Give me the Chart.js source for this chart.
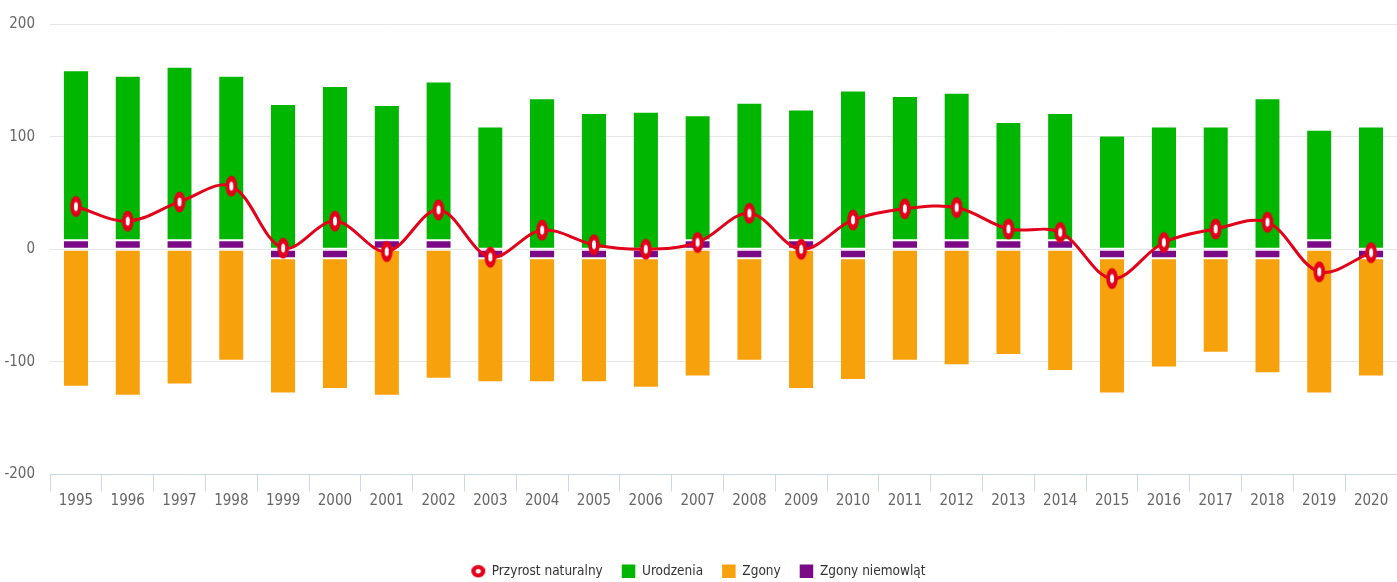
<!DOCTYPE html>
<html>
<head>
<meta charset="utf-8">
<script src="https://cdn.jsdelivr.net/npm/chart.js@4/dist/chart.umd.min.js"></script>
<style>
  html, body { margin: 0; padding: 0; background: #fff; }
  #wrap { width: 1397px; height: 582px; position: relative; }
</style>
</head>
<body>
<div id="wrap"><canvas id="chart"></canvas></div>
<script>
const years = ["1995", "1996", "1997", "1998", "1999", "2000", "2001", "2002", "2003", "2004",
  "2005", "2006", "2007", "2008", "2009", "2010", "2011", "2012", "2013", "2014",
  "2015", "2016", "2017", "2018", "2019", "2020"];

// values (thousands)
const przyrost = [38, 25, 42, 56, 1, 25, -2, 35, -7, 17, 4, 0, 6, 32, 0, 26, 36, 37, 18, 15, -26, 6, 18, 24, -20, -3];
const urodzenia = [151, 146, 154, 146, 129, 145, 120, 141, 109, 134, 121, 122, 111, 130, 116, 141, 128, 131, 105, 113, 101, 109, 109, 134, 98, 109];
const zgony = [-122, -130, -120, -99, -120, -116, -130, -115, -110, -110, -110, -115, -113, -91, -124, -108, -99, -103, -94, -108, -120, -97, -84, -102, -128, -105];
const zgonyNiemowlat = [8, 8, 8, 8, -8, -8, 8, 8, -8, -8, -8, -8, 8, -8, 8, -8, 8, 8, 8, 8, -8, -8, -8, -8, 8, -8];

const yTicks = [-200, -100, 0, 100, 200];

const RED = "#e2001a";
const FONT = "'DejaVu Sans Condensed', 'Liberation Sans', sans-serif";
const barBorder = { top: 1, bottom: 1, left: 0, right: 0 };

// red marker with white dot, a bit taller than wide like in the original
function makeMarker(w, h, rx, ry, irx, iry) {
  const c = document.createElement("canvas");
  c.width = w;
  c.height = h;
  const g = c.getContext("2d");
  g.fillStyle = RED;
  g.beginPath();
  g.ellipse(w / 2, h / 2, rx, ry, 0, 0, Math.PI * 2);
  g.fill();
  g.fillStyle = "#fff";
  g.beginPath();
  g.ellipse(w / 2, h / 2, irx, iry, 0, 0, Math.PI * 2);
  g.fill();
  return c;
}
const pointMarker = makeMarker(14, 24, 5.8, 10.5, 2, 4.5);
const legendMarker = makeMarker(16, 14, 7, 6.2, 2.6, 2.3);

const ctx = document.getElementById("chart");

new Chart(ctx, {
  data: {
    labels: years,
    datasets: [
      {
        type: "line",
        label: "Przyrost naturalny",
        data: przyrost,
        stack: "line",
        order: 0,
        borderColor: RED,
        borderWidth: 3,
        tension: 0.35,
        pointStyle: pointMarker,
        pointRadius: 6,
      },
      {
        type: "bar",
        label: "Urodzenia",
        data: urodzenia,
        stack: "a",
        order: 2,
        backgroundColor: "#00b600",
        borderColor: "#ffffff",
        borderWidth: barBorder,
        borderSkipped: false,
        pointStyle: "rect",
      },
      {
        type: "bar",
        label: "Zgony",
        data: zgony,
        stack: "a",
        order: 3,
        backgroundColor: "#f7a10c",
        borderColor: "#ffffff",
        borderWidth: barBorder,
        borderSkipped: false,
        pointStyle: "rect",
      },
      {
        type: "bar",
        label: "Zgony niemowląt",
        data: zgonyNiemowlat,
        stack: "a",
        order: 1,
        backgroundColor: "#7b0a86",
        borderColor: "#ffffff",
        borderWidth: barBorder,
        borderSkipped: false,
        pointStyle: "rect",
      },
    ],
  },
  options: {
    responsive: true,
    maintainAspectRatio: false,
    animation: false,
    layout: { autoPadding: false, padding: { top: 12, right: 0, bottom: -6, left: 0 } },
    datasets: {
      bar: { categoryPercentage: 1, barPercentage: 0.47 },
    },
    plugins: {
      tooltip: { enabled: false },
      legend: {
        position: "bottom",
        labels: {
          usePointStyle: true,
          boxWidth: 16,
          boxHeight: 15,
          padding: 19,
          color: "#333333",
          font: { family: FONT, size: 13.5 },
          sort: (a, b) => a.datasetIndex - b.datasetIndex,
          generateLabels: (chart) => {
            const items = Chart.defaults.plugins.legend.labels.generateLabels(chart);
            items.forEach((it) => {
              if (it.datasetIndex === 0) it.pointStyle = legendMarker;
              it.lineWidth = 0;
            });
            return items;
          },
        },
      },
    },
    scales: {
      x: {
        stacked: true,
        grid: {
          display: true,
          offset: true,
          drawOnChartArea: false,
          drawTicks: true,
          tickLength: 17,
          color: "#ccd6eb",
        },
        border: { display: true, color: "#ccd6eb" },
        ticks: {
          color: "#666666",
          padding: 1,
          maxRotation: 0,
          autoSkip: false,
          font: { family: FONT, size: 15 },
        },
        afterFit: (scale) => {
          scale.height = 71;
          scale.paddingLeft = 0;
          scale.paddingRight = 0;
        },
      },
      y: {
        stacked: true,
        min: -200,
        max: 200,
        afterBuildTicks: (scale) => { scale.ticks = yTicks.map((v) => ({ value: v })); },
        grid: { color: "#e6e6e6", drawTicks: false },
        border: { display: false },
        ticks: {
          color: "#666666",
          padding: 15,
          font: { family: FONT, size: 15 },
        },
        afterFit: (scale) => { scale.width = 50; },
      },
    },
  },
});
</script>
</body>
</html>
